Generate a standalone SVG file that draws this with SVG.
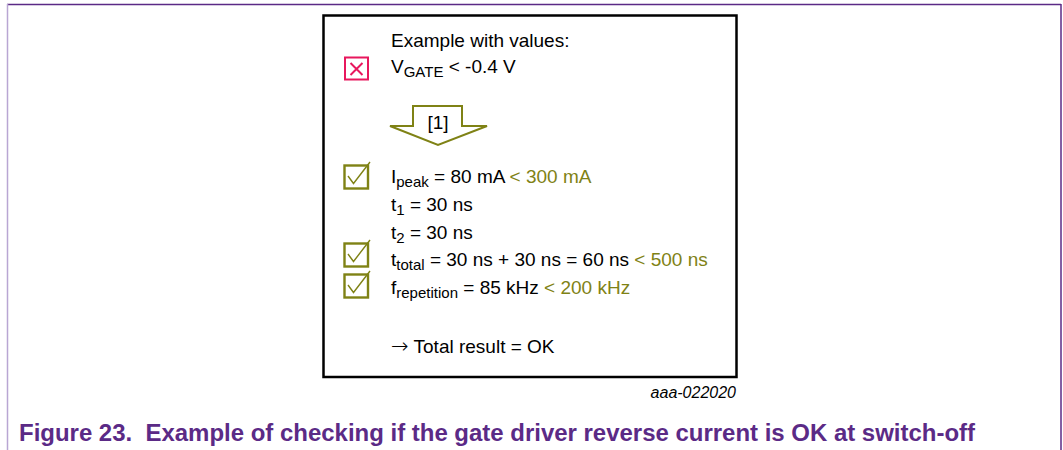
<svg xmlns="http://www.w3.org/2000/svg" width="1063" height="450" viewBox="0 0 1063 450">
  <style>
    .t { font-family: "Liberation Sans", Arial, sans-serif; font-size: 19px; fill: #000; }
    .s { font-size: 15px; }
    .g { fill: #7f8215; }
    .chk { fill: #fff; stroke: #7f8215; stroke-width: 2.4; }
    .mark { fill: none; stroke: #7f8215; stroke-width: 1.4; }
    .cap { font-family: "Liberation Sans", Arial, sans-serif; font-size: 23px; font-weight: bold; fill: #5b2a86; }
    .id { font-family: "Liberation Sans", Arial, sans-serif; font-size: 16px; font-style: italic; fill: #000; }
  </style>
  <rect width="1063" height="450" fill="#fff"/>
  <g id="page-frame">
    <line x1="7" y1="4.5" x2="1061" y2="4.5" stroke="#5b2a86" stroke-width="1.5"/>
    <line x1="7.5" y1="4" x2="7.5" y2="450" stroke="#b9a6d3" stroke-width="1.5"/>
    <line x1="1061" y1="4" x2="1061" y2="450" stroke="#5b2a86" stroke-width="1.5"/>
  </g>
  <g id="main-box">
    <rect x="323.5" y="15.5" width="413" height="361.5" fill="#fff" stroke="#000" stroke-width="2.5"/>
  </g>
  <g id="header">
    <text class="t" x="391" y="47">Example with values:</text>
    <text class="t" x="391" y="73">V<tspan class="s" dy="4">GATE</tspan><tspan dy="-4"> &lt; -0.4 V</tspan></text>
  </g>
  <g id="x-mark">
    <rect x="345" y="57.5" width="23" height="22" fill="#fff" stroke="#e8175d" stroke-width="2"/>
    <path d="M350.5 63 L362.5 75 M362.5 63 L350.5 75" fill="none" stroke="#e8175d" stroke-width="2"/>
  </g>
  <g id="arrow">
    <polygon points="413,106 462,106 462,126 487,126 438,145 390,126 413,126" fill="#fff" stroke="#7f8215" stroke-width="2"/>
    <text class="t" x="438" y="129" text-anchor="middle">[1]</text>
  </g>
  <g id="check-ipeak">
    <rect class="chk" x="344.5" y="165.5" width="23.5" height="23"/>
    <path class="mark" d="M348 176 L353.5 183.5 L370 162"/>
  </g>
  <g id="check-ttotal">
    <rect class="chk" x="344.5" y="243.5" width="23.5" height="23"/>
    <path class="mark" d="M348 254 L353.5 261.5 L370 240"/>
  </g>
  <g id="check-frep">
    <rect class="chk" x="344.5" y="274.5" width="23.5" height="23"/>
    <path class="mark" d="M348 285 L353.5 292.5 L370 271"/>
  </g>
  <g id="values">
    <text class="t" x="391" y="183">I<tspan class="s" dy="4">peak</tspan><tspan dy="-4"> = 80 mA </tspan><tspan class="g">&lt; 300 mA</tspan></text>
    <text class="t" x="391" y="211">t<tspan class="s" dy="4">1</tspan><tspan dy="-4"> = 30 ns</tspan></text>
    <text class="t" x="391" y="239">t<tspan class="s" dy="4">2</tspan><tspan dy="-4"> = 30 ns</tspan></text>
    <text class="t" x="391" y="266">t<tspan class="s" dy="4">total</tspan><tspan dy="-4"> = 30 ns + 30 ns = 60 ns </tspan><tspan class="g">&lt; 500 ns</tspan></text>
    <text class="t" x="391" y="294">f<tspan class="s" dy="4">repetition</tspan><tspan dy="-4"> = 85 kHz </tspan><tspan class="g">&lt; 200 kHz</tspan></text>
    <text class="t" x="391" y="353"><tspan font-family="'DejaVu Sans', sans-serif" font-size="21" font-weight="300">→</tspan> Total result = OK</text>
  </g>
  <text class="id" x="736" y="398" text-anchor="end">aaa-022020</text>
  <text class="cap" x="19" y="441" xml:space="preserve" textLength="956" lengthAdjust="spacingAndGlyphs">Figure 23.  Example of checking if the gate driver reverse current is OK at switch-off</text>
</svg>
